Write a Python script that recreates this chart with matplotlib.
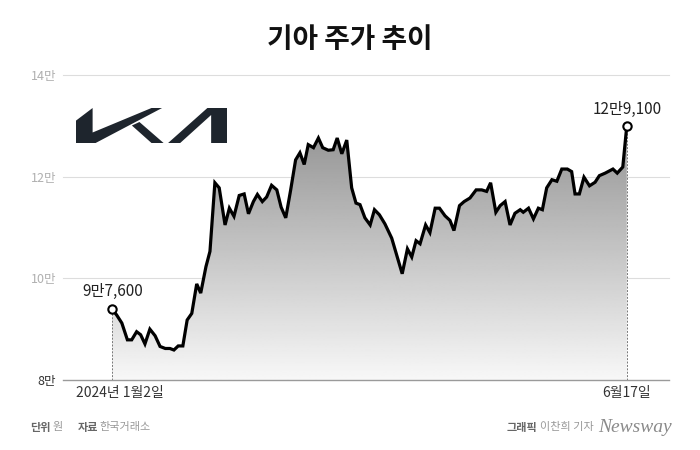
"""Kia share price chart (2024-01-02 .. 2024-06-17)."""
import numpy as np
import matplotlib
matplotlib.use('Agg')
import matplotlib.pyplot as plt
from matplotlib.patches import Polygon

plt.rcParams['font.family'] = ['Noto Sans CJK KR', 'DejaVu Sans']

# days since 2024-01-02
days = [0, 1.4, 3.1, 4.9, 6.3, 7.9, 9.2, 10.6, 12.2, 13.9,
        15.5, 17.2, 18.7, 20.0, 21.4, 22.9, 24.3, 25.8, 27.4, 28.7,
        30.4, 31.7, 33.3, 34.7, 36.6, 38.0, 39.5, 41.2, 42.8, 44.2,
        45.8, 47.1, 48.7, 50.1, 51.7, 53.4, 54.8, 56.3, 57.9, 59.5,
        60.9, 62.3, 63.6, 65.3, 66.9, 68.3, 70.1, 71.7, 73.0, 74.5,
        76.1, 77.7, 79.1, 80.4, 82.0, 83.7, 85.1, 86.7, 88.5, 90.7,
        92.3, 94.1, 95.8, 97.2, 98.6, 99.9, 101.7, 103.1, 104.8, 106.2,
        108.0, 109.6, 110.9, 112.7, 114.2, 116.1, 118.1, 119.9, 121.5, 122.8,
        124.5, 125.9, 127.5, 129.1, 130.7, 132.4, 133.4, 135.1, 136.7, 138.3,
        139.6, 141.0, 142.7, 144.3, 145.9, 147.7, 149.1, 150.2, 151.6, 153.1,
        154.9, 156.7, 158.1, 160.0, 162.5, 163.9, 165.7, 167.0]

prices = [93900, 92800, 91200, 87900, 87900, 89500, 88900, 87100, 90000, 88700,
          86600, 86200, 86200, 85900, 86700, 86700, 91800, 93100, 98900, 97100,
          102300, 105300, 118800, 117800, 110500, 113800, 112200, 116300, 116600, 112700,
          115100, 116500, 115100, 116000, 118300, 117400, 114000, 111900, 117400, 123300,
          124700, 122400, 126300, 125700, 127600, 125700, 125200, 125300, 127600, 124500,
          127200, 117800, 114800, 114500, 111900, 110500, 113500, 112500, 110700, 107900,
          104600, 100900, 105800, 104200, 107400, 106800, 110500, 109000, 113800, 113800,
          112300, 111400, 109400, 114300, 115100, 115800, 117400, 117400, 117100, 118800,
          113000, 114300, 115100, 110500, 112800, 113500, 113000, 113800, 111700, 113800,
          113500, 117800, 119400, 119100, 121500, 121500, 121000, 116600, 116600, 119900,
          118200, 118900, 120200, 120700, 121500, 120700, 121900, 130000]

y_ticks = [80000, 100000, 120000, 140000]
y_labels = ['8만', '10만', '12만', '14만']
start_label = '9만7,600'
end_label = '12만9,100'
start_date = '2024년 1월2일'
end_date = '6월17일'

fig = plt.figure(figsize=(7, 4.5), dpi=100)
ax = fig.add_axes([63 / 700, 1 - 380 / 450, 606 / 700, 305 / 450])
for s in ax.spines.values():
    s.set_visible(False)
ax.set_xticks([])
ax.set_yticks(y_ticks)
ax.set_yticklabels(y_labels, fontsize=9)
ax.tick_params(axis='y', length=0, pad=5)
for lab in ax.get_yticklabels():
    lab.set_color('#b0b0b0')
ax.get_yticklabels()[0].set_color('#333333')

for v in y_ticks[1:]:
    ax.axhline(v, color='#dddddd', lw=0.8, zorder=1, clip_on=False)
ax.axhline(80000, color='#9a9a9a', lw=1.0, zorder=4, clip_on=False)

# gradient area under the line
fill = ax.fill_between(days, prices, 80000, facecolor='none', edgecolor='none')
grad = np.linspace(0.97, 0.50, 256).reshape(-1, 1)
img = ax.imshow(grad, cmap='gray', vmin=0, vmax=1, aspect='auto',
                extent=[days[0], days[-1], 80000, 140000], origin='lower', zorder=2)
img.set_clip_path(fill.get_paths()[0], transform=ax.transData)
ax.set_xlim(-16.0, 180.7)
ax.set_ylim(80000, 140000)

ax.plot(days, prices, color='black', lw=2.3, zorder=5, solid_joinstyle='miter')

# dotted guides + end markers
for d, p in [(days[0], prices[0]), (days[-1], prices[-1])]:
    ax.plot([d, d], [80000, p], color='#777777', lw=0.7, ls=(0, (2, 1.5)), zorder=3)
    ax.plot([d], [p], 'o', ms=6, mfc='white', mec='black', mew=1.5, zorder=6, clip_on=False)

ax.annotate(start_label, (days[0], prices[0]), xytext=(0, 13), textcoords='offset points',
            ha='center', va='center', fontsize=11, color='#222222')
ax.annotate(end_label, (days[-1], prices[-1]), xytext=(0, 11.5), textcoords='offset points',
            ha='center', va='center', fontsize=11, color='#222222')
ax.annotate(start_date, (days[0], 80000), xytext=(5.5, -9), textcoords='offset points',
            ha='center', va='center', fontsize=10, color='#333333')
ax.annotate(end_date, (days[-1], 80000), xytext=(0, -9), textcoords='offset points',
            ha='center', va='center', fontsize=10, color='#333333')

# title
fig.text(0.5, 1 - 40 / 450, '기아 주가 추이', ha='center', va='center',
         fontsize=20, fontweight='bold', color='#111111')

# kia logo, drawn as simple polygons
lax = fig.add_axes([76 / 700, 1 - 143 / 450, 151 / 700, 35 / 450])
lax.set_xlim(0, 1)
lax.set_ylim(0, 1)
lax.axis('off')
logo_color = '#1e252d'
shapes = [
    [(0.0, 0.64), (0.11, 1.0), (0.11, 0.30), (0.50, 1.0), (0.57, 1.0), (0.13, 0.0), (0.0, 0.0)],
    [(0.37, 0.50), (0.42, 0.60), (0.58, 0.0), (0.50, 0.0)],
    [(0.61, 0.0), (0.69, 0.0), (0.895, 0.80), (0.895, 0.0), (1.0, 0.0), (1.0, 1.0), (0.87, 1.0)],
]
for pts in shapes:
    lax.add_patch(Polygon(pts, closed=True, facecolor=logo_color, edgecolor='none'))

# footer
fy = 1 - 427 / 450
fig.text(30 / 700, fy, '단위', fontsize=8, fontweight='bold', color='#666666', va='center')
fig.text(53 / 700, fy, '원', fontsize=8, color='#999999', va='center')
fig.text(78 / 700, fy, '자료', fontsize=8, fontweight='bold', color='#666666', va='center')
fig.text(99 / 700, fy, '한국거래소', fontsize=8, color='#999999', va='center')
fig.text(507 / 700, fy, '그래픽', fontsize=8, fontweight='bold', color='#666666', va='center')
fig.text(540 / 700, fy, '이찬희 기자', fontsize=8, color='#999999', va='center')
fig.text(672 / 700, fy, 'Newsway', fontsize=14, style='italic', family='Liberation Serif',
         color='#8a8a8a', ha='right', va='center')

fig.savefig('out.png', dpi=100)
